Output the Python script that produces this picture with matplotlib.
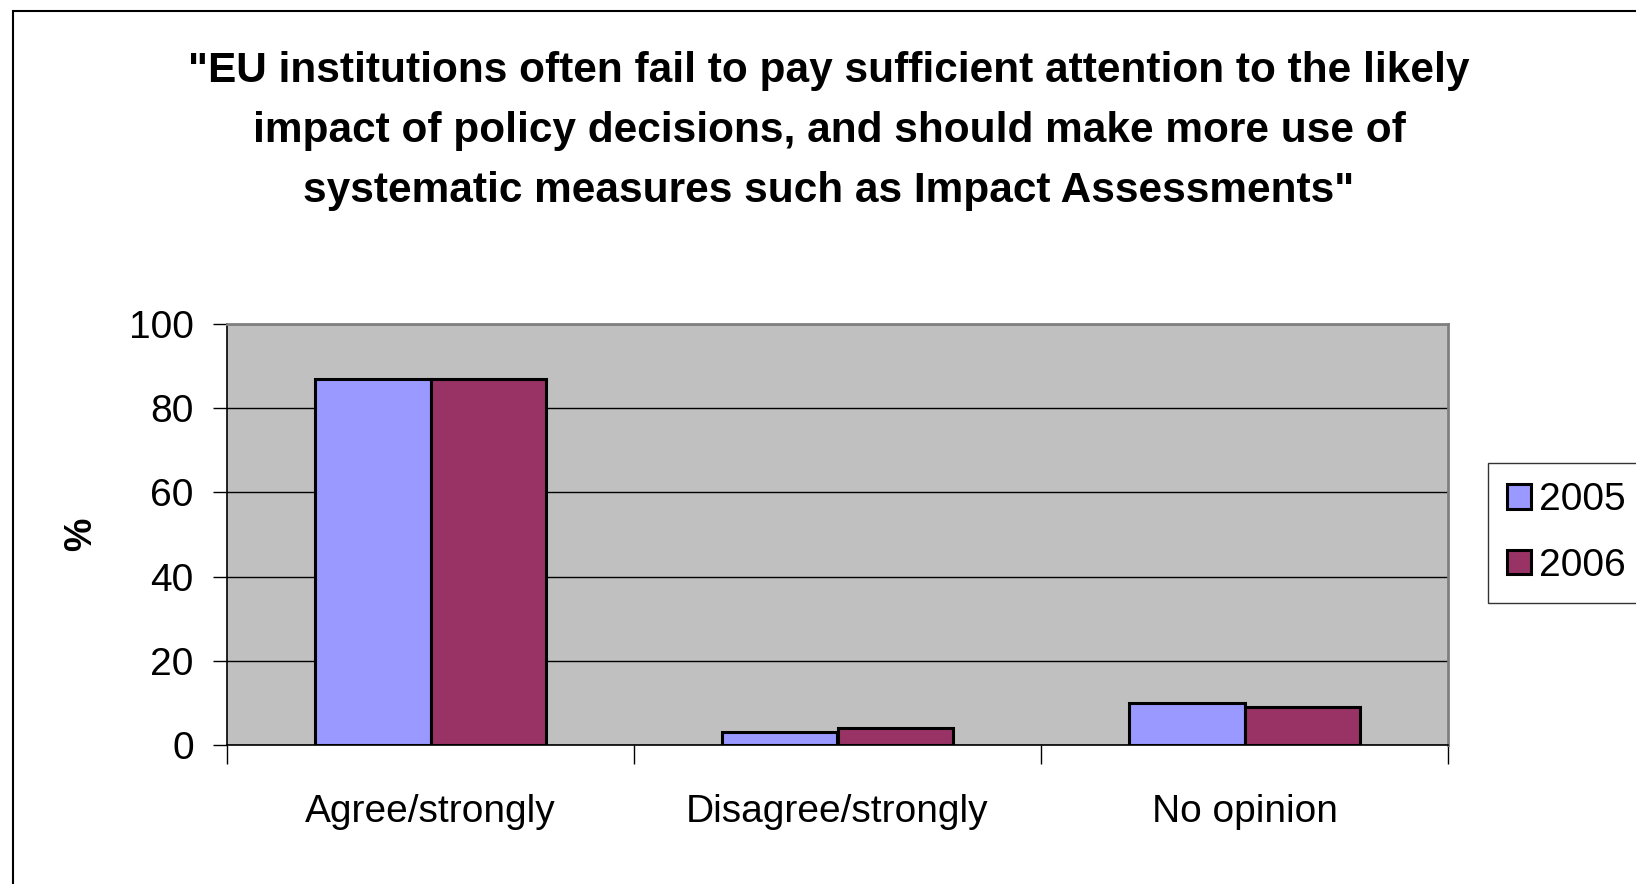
import numpy as np
import matplotlib
matplotlib.use('Agg')
import matplotlib.pyplot as plt
from matplotlib.patches import Rectangle

plt.rcParams['font.family'] = ['Liberation Sans', 'DejaVu Sans']

# data
categories = ['Agree/strongly', 'Disagree/strongly', 'No opinion']
series_names = ['2005', '2006']
values_2005 = [87, 3, 10]
values_2006 = [87, 4, 9]
colors = ['#9999FF', '#993366']
title = ('"EU institutions often fail to pay sufficient attention to the likely\n'
         'impact of policy decisions, and should make more use of\n'
         'systematic measures such as Impact Assessments"')

fig = plt.figure(figsize=(16.36, 8.84), dpi=100)
ax = fig.add_axes([227 / 1636, 1 - 745 / 884, 1221 / 1636, 421 / 884])
ax.set_facecolor('#C0C0C0')

x = np.arange(len(categories))
w = 0.283
ax.bar(x - w / 2, values_2005, w, color=colors[0], edgecolor='black',
       linewidth=2.2, label=series_names[0], zorder=3)
ax.bar(x + w / 2, values_2006, w, color=colors[1], edgecolor='black',
       linewidth=2.2, label=series_names[1], zorder=3)

ax.set_xlim(-0.5, len(categories) - 0.5)
ax.set_ylim(0, 100)
ax.set_yticks(np.arange(0, 101, 20))
ax.yaxis.grid(True, color='black', linewidth=1, zorder=1)
ax.tick_params(axis='y', labelsize=28, length=10, width=1, pad=14)

# x ticks sit on category boundaries, labels centred under categories
ax.set_xticks(np.arange(-0.5, len(categories), 1.0))
ax.set_xticklabels([])
ax.set_xticks(x, minor=True)
ax.set_xticklabels(categories, minor=True)
ax.tick_params(axis='x', which='major', length=14, width=1)
ax.tick_params(axis='x', which='minor', length=0, labelsize=28, pad=35)

for s in ['top', 'right']:
    ax.spines[s].set_color('#808080')
    ax.spines[s].set_linewidth(2)
for s in ['left', 'bottom']:
    ax.spines[s].set_color('black')
    ax.spines[s].set_linewidth(1.2)

ax.set_ylabel('%', fontsize=27, fontweight='bold', labelpad=21)

fig.text(829 / 1636, 1 - 131 / 884, title, ha='center', va='center',
         fontsize=30.5, fontweight='bold', linespacing=1.66)

leg = fig.legend(loc='upper left', bbox_to_anchor=(1488 / 1636, 1 - 463 / 884),
                 fontsize=28, frameon=True, fancybox=False, edgecolor='black',
                 handlelength=0.6, handleheight=0.6, handletextpad=0.2,
                 labelspacing=0.75, borderpad=0.5, borderaxespad=0)
leg.get_frame().set_linewidth(1)

# outer chart frame
fig.patches.append(Rectangle((13 / 1636, -0.1), 1.2, 1 - 11 / 884 + 0.1,
                             transform=fig.transFigure, fill=False,
                             edgecolor='black', linewidth=1.5))

fig.savefig('out.png', dpi=100)
